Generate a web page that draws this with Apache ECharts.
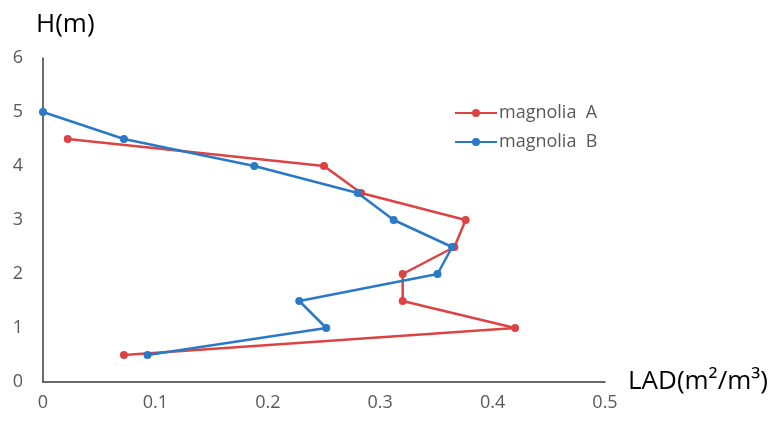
<!DOCTYPE html>
<html>
<head>
<meta charset="utf-8">
<script src="https://cdn.jsdelivr.net/npm/echarts@6/dist/echarts.min.js"></script>
<style>
  html, body { margin: 0; padding: 0; background: #fff; }
  #chart { width: 780px; height: 424px; }
</style>
</head>
<body>
<div id="chart"></div>
<script>
// heights (m) and leaf area density
const heightsA = [4.5, 4, 3.5, 3, 2.5, 2, 1.5, 1, 0.5];
const ladA = [0.022, 0.25, 0.283, 0.376, 0.366, 0.32, 0.32, 0.42, 0.072];

const heightsB = [5, 4.5, 4, 3.5, 3, 2.5, 2, 1.5, 1, 0.5];
const ladB = [0, 0.072, 0.188, 0.28, 0.312, 0.364, 0.351, 0.228, 0.252, 0.093];

const seriesNames = ['magnolia  A', 'magnolia  B'];
const colors = ['#dc4343', '#2a79c6'];

const pairs = (xs, ys) => xs.map((x, i) => [x, ys[i]]);

const tickFont = { color: '#595959', fontSize: 18, fontFamily: 'Open Sans' };

const chart = echarts.init(document.getElementById('chart'));
chart.setOption({
  animation: false,
  color: colors,
  grid: { left: 43, right: 175, top: 58, bottom: 42, containLabel: false },
  legend: {
    orient: 'vertical',
    left: 449,
    top: 99,
    itemWidth: 42,
    itemHeight: 10,
    itemGap: 11,
    textStyle: { color: '#595959', fontSize: 18, fontFamily: 'Open Sans', padding: [0, 0, 0, -3] },
    data: seriesNames
  },
  xAxis: {
    type: 'value',
    min: 0,
    max: 0.5,
    interval: 0.1,
    name: 'LAD(m²/m³)',
    nameLocation: 'end',
    nameGap: 23,
    nameTextStyle: { color: '#000', fontSize: 26, fontFamily: 'Open Sans', padding: [6, 0, 0, 0] },
    axisLine: { show: true, lineStyle: { color: '#3a3a3a', width: 1.5 } },
    axisTick: { show: false },
    splitLine: { show: false },
    axisLabel: Object.assign({ margin: 12 }, tickFont)
  },
  yAxis: {
    type: 'value',
    min: 0,
    max: 6,
    interval: 1,
    name: 'H(m)',
    nameLocation: 'end',
    nameGap: 20,
    nameTextStyle: { color: '#000', fontSize: 26, fontFamily: 'Open Sans', align: 'left', padding: [0, 0, 0, -7] },
    axisLine: { show: true, lineStyle: { color: '#3a3a3a', width: 1.5 } },
    axisTick: { show: false },
    splitLine: { show: false },
    axisLabel: Object.assign({ margin: 20 }, tickFont)
  },
  series: [
    {
      name: seriesNames[0],
      type: 'line',
      data: pairs(ladA, heightsA),
      symbol: 'circle',
      symbolSize: 8,
      lineStyle: { width: 2.5 },
      z: 2
    },
    {
      name: seriesNames[1],
      type: 'line',
      data: pairs(ladB, heightsB),
      symbol: 'circle',
      symbolSize: 8,
      lineStyle: { width: 2.5 },
      z: 3
    }
  ]
});
</script>
</body>
</html>
